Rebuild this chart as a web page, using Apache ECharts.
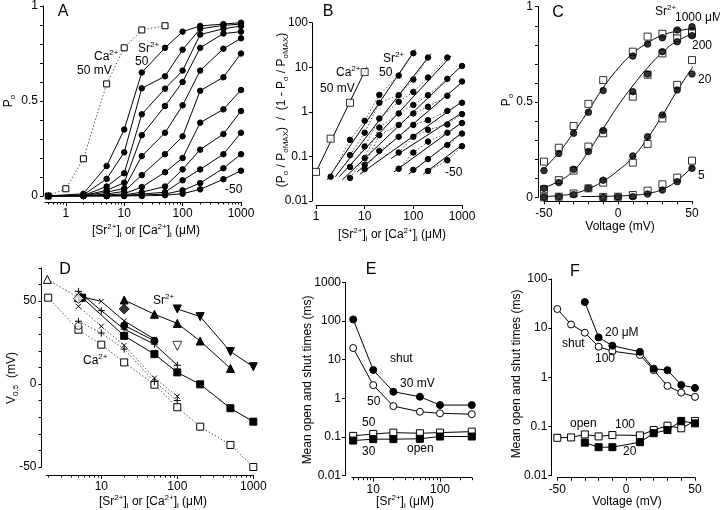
<!DOCTYPE html>
<html><head><meta charset="utf-8">
<script src="https://cdn.jsdelivr.net/npm/echarts@6/dist/echarts.min.js"></script>
<style>html,body{margin:0;padding:0;background:#fff}#c{width:720px;height:510px}</style>
</head><body><div id="c"></div>
<script>
// ---------------- DATA ----------------
// Panel A: Po vs [Sr2+] at -50..50 mV, and Ca2+ at 50 mV
const concA = [0.5, 2, 5, 10, 20, 50, 100, 200, 500, 1000];
const poA_p50 = [0, 0.012, 0.158, 0.35, 0.65, 0.78, 0.865, 0.895, 0.905, 0.912];
const poA_p40 = [0, 0.006, 0.09, 0.23, 0.567, 0.63, 0.77, 0.88, 0.898, 0.905];
const poA_p30 = [0, 0.003, 0.05, 0.12, 0.43, 0.565, 0.66, 0.85, 0.88, 0.895];
const poA_p20 = [0, 0.002, 0.03, 0.07, 0.32, 0.474, 0.6, 0.78, 0.855, 0.865];
const poA_p10 = [0, 0.001, 0.02, 0.04, 0.21, 0.333, 0.477, 0.66, 0.775, 0.83];
const poA_0   = [0, 0, 0.01, 0.025, 0.11, 0.22, 0.314, 0.554, 0.625, 0.75];
const poA_m10 = [0, 0, 0.005, 0.012, 0.047, 0.125, 0.2, 0.386, 0.456, 0.558];
const poA_m20 = [0, 0, 0, 0.006, 0.02, 0.05, 0.14, 0.244, 0.326, 0.447];
const poA_m30 = [0, 0, 0, 0.003, 0.01, 0.02, 0.083, 0.14, 0.22, 0.333];
const poA_m40 = [0, 0, 0, 0, 0.005, 0.01, 0.03, 0.068, 0.146, 0.22];
const poA_m50 = [0, 0, 0, 0, 0, 0.004, 0.012, 0.035, 0.088, 0.133];
const poA_all = [poA_p50, poA_p40, poA_p30, poA_p20, poA_p10, poA_0, poA_m10, poA_m20, poA_m30, poA_m40, poA_m50];
const caConcA = [0.5, 1, 2, 5, 10, 20, 50];
const caPoA   = [0, 0.038, 0.196, 0.59, 0.78, 0.874, 0.896];

// Panel B: (Po/PoMAX)/(1-Po/PoMAX) vs concentration
const caB = [[1, 0.045], [2, 0.25], [5, 1.6], [10, 7.8]];
const caBFit = [[1, 0.045], [11, 10]];
const bSr_p50 = [[2, 0.035], [5, 0.235], [10, 0.63], [20, 2.4], [50, 6.5], [100, 20.7]];
const bSr_p40 = [[5, 0.107], [10, 0.34], [20, 1.6], [50, 2.37], [100, 5.3], [200, 16.5]];
const bSr_p30 = [[5, 0.058], [10, 0.167], [20, 0.71], [50, 1.68], [100, 2.8], [200, 5.9], [500, 16.5]];
const bSr_p20 = [[5, 0.033], [10, 0.092], [20, 0.445], [50, 0.92], [100, 1.43], [200, 2.37], [500, 5.5], [1000, 10.7]];
const bSr_p10 = [[10, 0.065], [20, 0.3], [50, 0.51], [100, 0.92], [200, 1.3], [500, 2.3], [1000, 4.8]];
const bSr_0   = [[10, 0.052], [20, 0.133], [50, 0.275], [100, 0.51], [200, 0.65], [500, 1.05], [1000, 1.6]];
const bSr_m10 = [[50, 0.122], [100, 0.275], [200, 0.395], [500, 0.52], [1000, 0.89]];
const bSr_m20 = [[50, 0.053], [100, 0.122], [200, 0.215], [500, 0.34], [1000, 0.56]];
const bSr_m30 = [[100, 0.05], [200, 0.087], [500, 0.18], [1000, 0.325]];
const bSr_m50 = [[200, 0.047], [500, 0.082], [1000, 0.17]];
const bSr_all = [bSr_p50, bSr_p40, bSr_p30, bSr_p20, bSr_p10, bSr_0, bSr_m10, bSr_m20, bSr_m30, bSr_m50];
const bFit_all = [
  [[1.7, 0.03], [110, 25]], [[2.5, 0.035], [230, 20]], [[3, 0.035], [600, 18]],
  [[3.5, 0.03], [1000, 11]], [[7, 0.045], [1000, 4.6]], [[8, 0.04], [1000, 1.7]],
  [[35, 0.09], [1000, 0.95]], [[40, 0.045], [1000, 0.58]], [[80, 0.04], [1000, 0.34]], [[160, 0.04], [1000, 0.18]]
];

// Panel C: Po vs voltage
const vC = [-50, -40, -30, -20, -10, 10, 20, 30, 40, 50];
const c1000F = [0.14, 0.23, 0.336, 0.446, 0.56, 0.741, 0.804, 0.837, 0.878, 0.895];
const c1000O = [0.187, 0.26, 0.374, 0.49, 0.615, 0.764, 0.843, 0.858, 0.865, 0.869];
const c200F  = [0.047, 0.077, 0.147, 0.24, 0.35, 0.554, 0.647, 0.764, 0.816, 0.848];
const c200O  = [0.042, 0.09, 0.14, 0.266, 0.336, 0.528, 0.643, 0.755, 0.834, 0.86];
const c20F   = [0, 0.003, 0.014, 0.047, 0.09, 0.217, 0.318, 0.432, 0.563, 0.647];
const c20O   = [0, 0.003, 0.02, 0.047, 0.077, 0.182, 0.28, 0.414, 0.59, 0.72];
const vC5 = [-10, 0, 10, 20, 30, 40, 50];
const c5F = [0, 0.002, 0.003, 0.017, 0.038, 0.082, 0.152];
const c5O = [0.002, 0.003, 0.012, 0.035, 0.068, 0.103, 0.192];
const vFitC = [-50, -40, -30, -20, -10, 0, 10, 20, 30, 40, 52];
const fit1000 = [0.15, 0.235, 0.34, 0.455, 0.575, 0.675, 0.755, 0.81, 0.85, 0.872, 0.888];
const fit200  = [0.05, 0.085, 0.14, 0.24, 0.36, 0.48, 0.585, 0.68, 0.76, 0.82, 0.862];
const fit20   = [0.004, 0.009, 0.02, 0.045, 0.085, 0.14, 0.21, 0.31, 0.43, 0.56, 0.7];
const vFit5 = [-25, -10, 0, 10, 20, 30, 40, 52];
const fit5  = [0.004, 0.005, 0.007, 0.011, 0.02, 0.042, 0.088, 0.175];

// Panel D: V0.5 vs concentration
const dSrPlus  = [[5, 55.8], [10, 44.2], [20, 33], [50, 24], [100, 11.3]];
const dSrCross = [[5, 53], [10, 49.8], [20, 38], [50, 27]];
const dSrSq    = [[5.6, 52], [20, 29], [50, 18], [100, 7], [200, -0.2], [500, -14.6], [1000, -22.7]];
const dSrTriUp = [[20, 50.6], [50, 42], [100, 36.5], [200, 25.9], [500, 9.4]];
const dSrTriDn = [[100, 45.2], [200, 40.6], [500, 19.5], [1000, 10.4]];
const dSrCirc  = [[20, 35.3], [50, 26]];
const dSrDiam  = [[20, 45.2]];
const dSrTriDnOpen = [[100, 23]];
const dCaTri   = [[1.95, 63], [5, 52]];
const dCaSq    = [[2, 52], [5, 32.7], [10, 23.7], [20, 13], [50, -0.4], [100, -14], [200, -25.7], [500, -36.7], [1000, -50]];
const dCaCross = [[5, 46.8], [10, 34.8], [20, 23.3], [50, 3.6], [100, -7.4]];
const dCaPlus  = [[5, 37.8], [10, 30.7], [20, 21], [50, 1.5], [100, -10]];
const dCaCircOpen = [[5, 35]];
const dCaDiamOpen = [[5, 51.5]];

// Panel E: mean open/shut times vs [Sr2+]
const eConc = [5, 10, 20, 50, 100, 300];
const eShut30 = [110, 5.4, 1.48, 1.1, 0.67, 0.67];
const eShut50 = [20, 2.2, 0.63, 0.45, 0.41, 0.39];
const eOpen50 = [0.107, 0.12, 0.13, 0.125, 0.13, 0.138];
const eOpen30 = [0.081, 0.088, 0.088, 0.09, 0.103, 0.103];

// Panel F: mean open/shut times vs voltage
const fV100 = [-50, -40, -30, -20, -10, 10, 20, 30, 40, 50];
const fShut100 = [24.5, 11.9, 8.1, 4.2, 3.4, 2.85, 1.4, 0.67, 0.49, 0.4];
const fOpen100 = [0.059, 0.06, 0.069, 0.063, 0.067, 0.066, 0.085, 0.104, 0.092, 0.13];
const fV20 = [-30, -20, -10, 10, 20, 30, 40, 50];
const fShut20 = [34, 6.5, 4.4, 3.3, 1.5, 1.4, 0.7, 0.61];
const fOpen20 = [0.047, 0.038, 0.038, 0.048, 0.073, 0.085, 0.13, 0.116];

// Tick values
const decTicks = [0.01, 0.1, 1, 10, 100, 1000];
const ticksAx = [1, 10, 100, 1000];
const minorA = [0.5, 0.6, 0.7, 0.8, 0.9, 2, 3, 4, 5, 6, 7, 8, 9, 20, 30, 40, 50, 60, 70, 80, 90, 200, 300, 400, 500, 600, 700, 800, 900];
const minorD = [2, 3, 4, 5, 6, 7, 8, 9, 20, 30, 40, 50, 60, 70, 80, 90, 200, 300, 400, 500, 600, 700, 800, 900];
const minorE = [5, 6, 7, 8, 9, 20, 30, 40, 50, 60, 70, 80, 90, 200, 300];
const tenths = [0, 0.1, 0.2, 0.3, 0.4, 0.5, 0.6, 0.7, 0.8, 0.9, 1];
const volts10 = [-50, -40, -30, -20, -10, 0, 10, 20, 30, 40, 50];
const dTicks = [-50, -40, -30, -20, -10, 0, 10, 20, 30, 40, 50, 60, 70];

// ---------------- CHART ----------------
const FONT = '"Liberation Sans", Arial, Helvetica, sans-serif';
const chart = echarts.init(document.getElementById('c'), null, {renderer: 'canvas'});
const fmt = v => String(+(+v).toPrecision(4));

const grids = [
  {left: 45, top: 6, width: 196, height: 190},
  {left: 316, top: 22.7, width: 146, height: 178.3},
  {left: 544, top: 6.7, width: 148, height: 190.6},
  {left: 46.5, top: 267.8, width: 206.8, height: 199.2},
  {left: 352, top: 282.3, width: 119.8, height: 193.4},
  {left: 557.3, top: 279, width: 137.7, height: 196.7}
];

function mkAx(o) {
  return {
    type: o.type, gridIndex: o.g, min: o.min, max: o.max, position: o.pos, offset: o.offset || 0,
    logBase: 10,
    axisLine: {show: o.line !== false, onZero: false, lineStyle: {color: '#000', width: 1}},
    axisTick: {show: true, length: o.tickLen || 3, customValues: o.ticks, lineStyle: {color: '#000', width: 1}},
    axisLabel: {show: !!o.labels, customValues: o.labels || [], color: '#000', fontFamily: FONT, fontSize: 12,
      margin: o.margin || 4, formatter: fmt, hideOverlap: false},
    splitLine: {show: false}, minorTick: {show: false}
  };
}

const xAxes = [
  mkAx({type: 'log', g: 0, min: 0.44, max: 1000, pos: 'bottom', offset: 6, ticks: ticksAx, labels: ticksAx, tickLen: 4, margin: 6}),
  mkAx({type: 'log', g: 1, min: 1, max: 1000, pos: 'bottom', offset: 4, ticks: ticksAx, labels: ticksAx, tickLen: 4, margin: 6}),
  mkAx({type: 'value', g: 2, min: -50, max: 50, pos: 'bottom', offset: 4, ticks: volts10, labels: [-50, 0, 50], tickLen: 3, margin: 6}),
  mkAx({type: 'log', g: 3, min: 1.9, max: 1000, pos: 'bottom', offset: 8, ticks: [10, 100, 1000], labels: [10, 100, 1000], tickLen: 4, margin: 6}),
  mkAx({type: 'log', g: 4, min: 4.8, max: 300, pos: 'bottom', offset: 2, ticks: [10, 100], labels: [10, 100], tickLen: 4, margin: 6}),
  mkAx({type: 'value', g: 5, min: -50, max: 50, pos: 'bottom', offset: 2, ticks: volts10, labels: [-50, 0, 50], tickLen: 3, margin: 6}),
  // minor tick overlays
  mkAx({type: 'log', g: 0, min: 0.44, max: 1000, pos: 'bottom', offset: 6, ticks: minorA, line: false, tickLen: 2.5}),
  mkAx({type: 'log', g: 3, min: 1.9, max: 1000, pos: 'bottom', offset: 8, ticks: minorD, line: false, tickLen: 2.5}),
  mkAx({type: 'log', g: 4, min: 4.8, max: 300, pos: 'bottom', offset: 2, ticks: minorE, line: false, tickLen: 2.5})
];
const yAxes = [
  mkAx({type: 'value', g: 0, min: 0, max: 1, pos: 'left', offset: 2, ticks: tenths, labels: [0, 0.5, 1], margin: 5}),
  mkAx({type: 'log', g: 1, min: 0.01, max: 100, pos: 'left', offset: 4, ticks: [0.01, 0.1, 1, 10, 100], labels: [0.01, 0.1, 1, 10, 100], margin: 4}),
  mkAx({type: 'value', g: 2, min: 0, max: 1, pos: 'left', offset: 6, ticks: tenths, labels: [0, 0.5, 1], margin: 5}),
  mkAx({type: 'value', g: 3, min: -50, max: 70, pos: 'left', offset: 5, ticks: dTicks, labels: [-50, 0, 50], margin: 5}),
  mkAx({type: 'log', g: 4, min: 0.01, max: 1000, pos: 'left', offset: 7, ticks: decTicks, labels: decTicks, margin: 4}),
  mkAx({type: 'log', g: 5, min: 0.01, max: 100, pos: 'left', offset: 6, ticks: [0.01, 0.1, 1, 10, 100], labels: [0.01, 0.1, 1, 10, 100], margin: 4})
];

const FILLED = {color: '#000', borderColor: '#000', borderWidth: 1};
const OPEN = {color: '#fff', borderColor: '#000', borderWidth: 1};
const CROSS = 'path://M0,0L10,10M10,0L0,10';
const PLUS = 'path://M5,0L5,10M0,5L10,5';
const STROKE = {color: 'none', borderColor: '#000', borderWidth: 1};
const pairs = (xs, ys) => xs.map((x, i) => [x, ys[i]]);

function ln(g, data, o) {
  return Object.assign({
    type: 'line', xAxisIndex: g, yAxisIndex: g, data: data, symbol: 'circle', symbolSize: 6,
    itemStyle: FILLED, lineStyle: {color: '#000', width: 1}, silent: true, animation: false, z: 3
  }, o || {});
}
function pts(g, data, o) {
  return Object.assign({
    type: 'scatter', xAxisIndex: g, yAxisIndex: g, data: data, symbol: 'circle', symbolSize: 6,
    itemStyle: FILLED, silent: true, animation: false, z: 4
  }, o || {});
}
const DOT = {color: '#555', width: 1, type: [1.5, 2]};

const series = [];
// A
series.push(ln(0, pairs(caConcA, caPoA), {symbol: 'rect', symbolSize: 6, itemStyle: OPEN, lineStyle: DOT}));
poA_all.forEach(a => series.push(ln(0, pairs(concA, a), {symbolSize: 5.5})));
// B
series.push(ln(1, caBFit, {symbol: 'none'}));
series.push(pts(1, caB, {symbol: 'rect', symbolSize: 7, itemStyle: OPEN}));
bFit_all.forEach(f => series.push(ln(1, f, {symbol: 'none'})));
bSr_all.forEach(a => series.push(ln(1, a, {symbolSize: 5.5, lineStyle: DOT})));
// C
series.push(ln(2, pairs(vFitC, fit1000), {symbol: 'none', smooth: true}));
series.push(ln(2, pairs(vFitC, fit200), {symbol: 'none', smooth: true}));
series.push(ln(2, pairs(vFitC, fit20), {symbol: 'none', smooth: true}));
series.push(ln(2, pairs(vFit5, fit5), {symbol: 'none', smooth: true}));
[c1000O, c200O, c20O].forEach(a => series.push(pts(2, pairs(vC, a), {symbol: 'rect', symbolSize: 7, itemStyle: OPEN})));
series.push(pts(2, pairs(vC5, c5O), {symbol: 'rect', symbolSize: 7, itemStyle: OPEN}));
[c1000F, c200F, c20F].forEach(a => series.push(pts(2, pairs(vC, a), {symbolSize: 6.5})));
series.push(pts(2, pairs(vC5, c5F), {symbolSize: 6.5}));
// D
series.push(ln(3, dCaSq, {symbol: 'rect', symbolSize: 7, itemStyle: OPEN, lineStyle: DOT}));
series.push(ln(3, dCaTri, {symbol: 'triangle', symbolSize: 8, itemStyle: OPEN, lineStyle: DOT}));
series.push(ln(3, dCaCross, {symbol: CROSS, symbolSize: 5, itemStyle: STROKE, lineStyle: DOT}));
series.push(ln(3, dCaPlus, {symbol: PLUS, symbolSize: 7, itemStyle: STROKE, lineStyle: DOT}));
series.push(pts(3, dCaCircOpen, {symbolSize: 7, itemStyle: OPEN}));
series.push(pts(3, dCaDiamOpen, {symbol: 'diamond', symbolSize: 10, itemStyle: OPEN}));
series.push(ln(3, dSrPlus, {symbol: PLUS, symbolSize: 7, itemStyle: STROKE}));
series.push(ln(3, dSrCross, {symbol: CROSS, symbolSize: 5, itemStyle: STROKE}));
series.push(ln(3, dSrCirc, {symbolSize: 7}));
series.push(ln(3, dSrSq, {symbol: 'rect', symbolSize: 7}));
series.push(ln(3, dSrTriUp, {symbol: 'triangle', symbolSize: 8}));
series.push(ln(3, dSrTriDn, {symbol: 'triangle', symbolSize: 8, symbolRotate: 180}));
series.push(pts(3, dSrDiam, {symbol: 'diamond', symbolSize: 10}));
series.push(pts(3, dSrTriDnOpen, {symbol: 'triangle', symbolSize: 9, symbolRotate: 180, itemStyle: OPEN}));
// E
series.push(ln(4, pairs(eConc, eShut30), {symbolSize: 7}));
series.push(ln(4, pairs(eConc, eShut50), {symbolSize: 7, itemStyle: OPEN}));
series.push(ln(4, pairs(eConc, eOpen50), {symbol: 'rect', symbolSize: 7, itemStyle: OPEN}));
series.push(ln(4, pairs(eConc, eOpen30), {symbol: 'rect', symbolSize: 7}));
// F
series.push(ln(5, pairs(fV100, fShut100), {symbolSize: 7, itemStyle: OPEN}));
series.push(ln(5, pairs(fV20, fShut20), {symbolSize: 7}));
series.push(ln(5, pairs(fV100, fOpen100), {symbol: 'rect', symbolSize: 7, itemStyle: OPEN}));
series.push(ln(5, pairs(fV20, fOpen20), {symbol: 'rect', symbolSize: 7}));

// Texts
const RICH = {
  sup: {fontSize: 8, fontFamily: FONT, fill: '#000', color: '#000', verticalAlign: 'top', lineHeight: 8},
  sub: {fontSize: 8, fontFamily: FONT, fill: '#000', color: '#000', verticalAlign: 'bottom', lineHeight: 8},
  n: {fontSize: 12, fontFamily: FONT, fill: '#000', color: '#000', lineHeight: 16}
};
function T(x, y, s, o) {
  o = o || {};
  const al = o.align || 'left';
  return {
    type: 'text', x: x, y: y, rotation: o.rot || 0, silent: true, z: 100,
    style: {text: s, rich: RICH, fontSize: o.size || 12, fontFamily: FONT, fill: '#000',
      align: al, textAlign: al, verticalAlign: 'middle', textVerticalAlign: 'middle'}
  };
}
const SR = '{n|Sr}{sup|2+}', CA = '{n|Ca}{sup|2+}';
const XT = '{n|[Sr}{sup|2+}{n|]}{sub|i}{n| or [Ca}{sup|2+}{n|]}{sub|i}{n| (μM)}';
const PO = '{n|P}{sub|o}';
const texts = [
  // A
  T(63, 12, 'A', {size: 16, align: 'center'}),
  T(94, 57, CA), T(77, 71, '50 mV'), T(138, 49, SR), T(135, 62, '50'), T(225, 190, '-50'),
  T(9, 101, PO, {rot: Math.PI / 2, align: 'center'}),
  T(146, 231, XT, {align: 'center'}),
  // B
  T(328, 12, 'B', {size: 16, align: 'center'}),
  T(336, 73, CA), T(320, 89, '50 mV'), T(383, 59, SR), T(379, 73, '50'), T(445, 173, '-50'),
  T(282, 110, '{n|(P}{sub|o}{n| / P}{sub|oMAX}{n|)  /  (1 - P}{sub|o}{n| / P}{sub|oMAX}{n|)}', {rot: Math.PI / 2, align: 'center'}),
  T(392, 235, XT, {align: 'center'}),
  // C
  T(558, 13, 'C', {size: 16, align: 'center'}),
  T(655, 12, SR), T(675, 18, '1000 μM'), T(692, 46, '200'), T(698, 80, '20'), T(698, 176, '5'),
  T(507, 100, PO, {rot: Math.PI / 2, align: 'center'}),
  T(620, 227, 'Voltage (mV)', {align: 'center'}),
  // D
  T(65, 270, 'D', {size: 16, align: 'center'}),
  T(153, 301, SR), T(83, 361, CA),
  T(12, 378, '{n|V}{sub|0.5}{n|  (mV)}', {rot: Math.PI / 2, align: 'center'}),
  T(153, 502, XT, {align: 'center'}),
  // E
  T(371, 270, 'E', {size: 16, align: 'center'}),
  T(390, 359, 'shut'), T(400, 384, '30 mV'), T(367, 402, '50'), T(362, 423, '50'), T(362, 452, '30'), T(407, 449, 'open'),
  T(308, 380, 'Mean open and shut times (ms)', {rot: Math.PI / 2, align: 'center'}),
  T(405, 502, '{n|[Sr}{sup|2+}{n|]}{sub|i}{n| (μM)}', {align: 'center'}),
  // F
  T(575, 272, 'F', {size: 16, align: 'center'}),
  T(605, 333, '20 μM'), T(562, 344, 'shut'), T(595, 359, '100'), T(570, 424, 'open'), T(615, 425, '100'), T(623, 452, '20'),
  T(517, 374, 'Mean open and shut times (ms)', {rot: Math.PI / 2, align: 'center'}),
  T(627, 502, 'Voltage (mV)', {align: 'center'})
];

chart.setOption({
  backgroundColor: '#fff',
  animation: false,
  textStyle: {fontFamily: FONT},
  grid: grids,
  xAxis: xAxes,
  yAxis: yAxes,
  series: series,
  graphic: {elements: texts}
});
</script>
</body></html>
